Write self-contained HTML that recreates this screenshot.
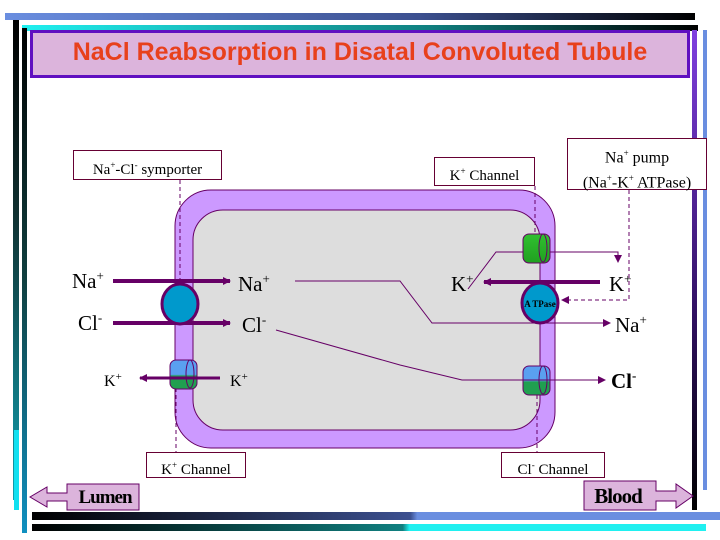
<!DOCTYPE html>
<html><head><style>
body{margin:0;width:720px;height:540px;background:#fff;overflow:hidden;position:relative;font-family:"Liberation Serif",serif}
.a{position:absolute}
.box{position:absolute;border:1px solid #660033;background:#fff;font-size:15px;text-align:center;color:#000;box-sizing:border-box}
sup{font-size:9px}
</style></head><body>
<div class="a" style="left:5px;top:13px;width:690px;height:7px;background:linear-gradient(90deg,#6a8ee0,#3c5090 60%,#000)"></div>
<div class="a" style="left:22px;top:25px;width:676px;height:6px;background:linear-gradient(90deg,#20f0f0,#108080 60%,#000)"></div>
<div class="a" style="left:13px;top:20px;width:6px;height:480px;background:linear-gradient(#000,#103030 40%,#10a0b0)"></div>
<div class="a" style="left:14px;top:430px;width:5px;height:80px;background:#10e0f0"></div>
<div class="a" style="left:22px;top:28px;width:5px;height:505px;background:linear-gradient(#000,#104040 50%,#1090c0)"></div>
<div class="a" style="left:692px;top:30px;width:5px;height:480px;background:linear-gradient(#8040e0,#301060 60%,#000)"></div>
<div class="a" style="left:703px;top:30px;width:4px;height:460px;background:#6a8ee0"></div>
<div class="a" style="left:32px;top:512px;width:688px;height:8px;background:linear-gradient(90deg,#000,#3c5090 55%,#6a8ee0 56%,#6a8ee0)"></div>
<div class="a" style="left:32px;top:524px;width:674px;height:7px;background:linear-gradient(90deg,#000,#108080 55%,#20f0f0 56%,#20f0f0)"></div>
<div class="a" style="left:30px;top:30px;width:660px;height:48px;box-sizing:border-box;border:3px solid #6010c0;background:#dcb4dc;color:#e8401c;font:bold 25px 'Liberation Sans',sans-serif;text-align:center;line-height:38px">NaCl Reabsorption in Disatal Convoluted Tubule</div>
<svg class="a" style="left:0;top:0" width="720" height="540">
<defs>
<marker id="m" markerWidth="8" markerHeight="8" refX="7" refY="4" orient="auto" markerUnits="userSpaceOnUse"><path d="M0,0 L8,4 L0,8z" fill="#660066"/></marker>
<linearGradient id="bg" x1="0" y1="0" x2="0" y2="1"><stop offset="0.5" stop-color="#5aa0f0"/><stop offset="0.55" stop-color="#20a050"/></linearGradient>
<linearGradient id="gg" x1="0" y1="0" x2="0" y2="1"><stop offset="0" stop-color="#30c030"/><stop offset="1" stop-color="#20a020"/></linearGradient>
</defs>
<rect x="175" y="190" width="380" height="258" rx="36" fill="#cc99ff" stroke="#660066"/>
<rect x="193" y="210" width="347" height="220" rx="30" fill="#dddddd" stroke="#660066"/>
<g stroke="#660066" fill="none" stroke-dasharray="4,3">
<path d="M180 180V290"/><path d="M535 186V240"/><path d="M176 388V453"/><path d="M537 395V453"/>
<path d="M629 190V300H562" marker-end="url(#m)"/>
</g>
<g stroke="#660066" fill="none">
<path d="M295 281H400L432 323H610" marker-end="url(#m)"/>
<path d="M276 330L400 365L462 380H605" marker-end="url(#m)"/>
<path d="M468 289L496 252H618V262" marker-end="url(#m)"/>
</g>
<g stroke="#660066" stroke-width="4" fill="none">
<path d="M113 281H230" marker-end="url(#m)"/><path d="M113 323H230" marker-end="url(#m)"/>
<path d="M600 282H484" marker-end="url(#m)"/>
</g>
<ellipse cx="180" cy="304" rx="18" ry="20" fill="#0099cc" stroke="#660066" stroke-width="3"/>
<ellipse cx="540" cy="303" rx="18" ry="20" fill="#0099cc" stroke="#660066" stroke-width="3"/>
<text x="540" y="307" font-size="9" font-weight="bold" text-anchor="middle" font-family="Liberation Serif">A TPase</text>
<rect x="170" y="360" width="27" height="29" rx="6" fill="url(#bg)" stroke="#660066"/><ellipse cx="190" cy="374" rx="4" ry="14" fill="none" stroke="#660066"/>
<path d="M220 378H140" stroke="#660066" stroke-width="3" marker-end="url(#m)"/>
<rect x="523" y="234" width="27" height="29" rx="6" fill="url(#gg)" stroke="#660066"/><ellipse cx="543" cy="248" rx="4" ry="14" fill="none" stroke="#660066"/>
<rect x="523" y="366" width="27" height="29" rx="6" fill="url(#bg)" stroke="#660066"/><ellipse cx="543" cy="380" rx="4" ry="14" fill="none" stroke="#660066"/>
<path d="M462 380H605" stroke="#660066"/>
<g font-family="Liberation Serif" font-size="21" fill="#000">
<text x="72" y="288">Na<tspan font-size="13" dy="-8">+</tspan></text>
<text x="78" y="330">Cl<tspan font-size="13" dy="-8">-</tspan></text>
<text x="238" y="291">Na<tspan font-size="13" dy="-8">+</tspan></text>
<text x="242" y="332">Cl<tspan font-size="13" dy="-8">-</tspan></text>
<text x="451" y="291">K<tspan font-size="13" dy="-8">+</tspan></text>
<text x="609" y="291">K<tspan font-size="13" dy="-8">+</tspan></text>
<text x="615" y="332">Na<tspan font-size="13" dy="-8">+</tspan></text>
<text x="611" y="388" font-weight="bold">Cl<tspan font-size="13" dy="-8">-</tspan></text>
<text x="104" y="386" font-size="16">K<tspan font-size="11" dy="-6">+</tspan></text>
<text x="230" y="386" font-size="16">K<tspan font-size="11" dy="-6">+</tspan></text>
</g>
<path d="M67 484H139V510H67V501H47V507L30 497L47 487V493H67z" fill="#dcb4dc" stroke="#660066"/>
<path d="M584 481H656V491H676V484L693 496L676 508V501H656V510H584z" fill="#dcb4dc" stroke="#660066"/>
<text x="105" y="503" font-size="19" font-weight="bold" text-anchor="middle" font-family="Liberation Serif" letter-spacing="-1">Lumen</text>
<text x="618" y="503" font-size="21" font-weight="bold" text-anchor="middle" font-family="Liberation Serif" letter-spacing="-1">Blood</text>
</svg>
<div class="box" style="left:73px;top:150px;width:149px;height:30px;line-height:28px">Na<sup>+</sup>-Cl<sup>-</sup> symporter</div>
<div class="box" style="left:434px;top:157px;width:101px;height:29px;line-height:27px">K<sup>+</sup> Channel</div>
<div class="box" style="left:567px;top:138px;width:140px;height:52px;line-height:21px;padding-top:4px;font-size:16px">Na<sup>+</sup> pump<br>(Na<sup>+</sup>-K<sup>+</sup> ATPase)</div>
<div class="box" style="left:146px;top:452px;width:100px;height:26px;line-height:24px">K<sup>+</sup> Channel</div>
<div class="box" style="left:501px;top:452px;width:104px;height:26px;line-height:24px">Cl<sup>-</sup> Channel</div>
</body></html>
